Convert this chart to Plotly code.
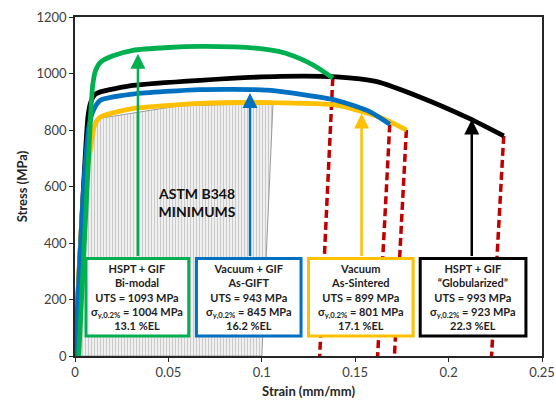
import plotly.graph_objects as go

# ---------------- data ----------------
green_x = [0.002, 0.0085, 0.0095, 0.011, 0.0136, 0.02, 0.031, 0.05, 0.067, 0.085, 0.098, 0.109, 0.117, 0.124, 0.131, 0.138]
green_y = [0, 870, 960, 1010, 1040, 1062, 1082, 1092, 1096, 1094, 1089, 1078, 1062, 1042, 1016, 984]

black_x = [0, 0.007, 0.0085, 0.0105, 0.0136, 0.031, 0.067, 0.11, 0.14, 0.161, 0.1845, 0.211, 0.2295]
black_y = [0, 850, 900, 925, 935, 958, 976, 990, 988, 972, 917, 841, 779]

blue_x = [0, 0.0044, 0.0061, 0.0074, 0.0095, 0.0136, 0.031, 0.067, 0.103, 0.14, 0.158, 0.1685]
blue_y = [0, 577, 729, 811, 865, 905, 927, 943, 941, 905, 864, 820]

yellow_x = [0, 0.0045, 0.0075, 0.0085, 0.0095, 0.011, 0.0136, 0.02, 0.031, 0.067, 0.103, 0.14, 0.163, 0.1774]
yellow_y = [0, 560, 700, 740, 790, 825, 846, 860, 876, 894, 897, 888, 846, 800]

astm_x = [0, 0.0045, 0.0075, 0.012, 0.055, 0.106, 0.1, 0]
astm_y = [0, 560, 760, 840, 885, 895, 0, 0]

elongation = [0.131, 0.162, 0.171, 0.223]          # green, blue, yellow, black
arrow_x = [0.0337, 0.0937, 0.1534, 0.2124]
arrow_tip = [1070, 931, 858, 837]

box_text = [
    "HSPT + GIF<br>Bi-modal<br>UTS = 1093 MPa<br>σ<sub>y,0.2%</sub> = 1004 MPa<br>13.1 %EL",
    "Vacuum + GIF<br>As-GIFT<br>UTS = 943 MPa<br>σ<sub>y,0.2%</sub> = 845 MPa<br>16.2 %EL",
    "Vacuum<br>As-Sintered<br>UTS = 899 MPa<br>σ<sub>y,0.2%</sub> = 801 MPa<br>17.1 %EL",
    "HSPT + GIF<br>“Globularized”<br>UTS = 993 MPa<br>σ<sub>y,0.2%</sub> = 923 MPa<br>22.3 %EL",
]
box_x0 = [0.0059, 0.065, 0.125, 0.1848]
box_x1 = [0.0609, 0.121, 0.181, 0.2414]
box_y0, box_y1 = 71, 345

x_ticks = [0, 0.05, 0.1, 0.15, 0.2, 0.25]
x_tick_labels = ["0", "0.05", "0.1", "0.15", "0.2", "0.25"]
y_ticks = [0, 200, 400, 600, 800, 1000, 1200]

GREEN, BLUE, YELLOW, BLACK, RED = "#00B050", "#0070C0", "#FFC000", "#000000", "#C00000"
colors = [GREEN, BLUE, YELLOW, BLACK]
curves = [(green_x, green_y), (blue_x, blue_y), (yellow_x, yellow_y), (black_x, black_y)]

fig = go.Figure()

# hatched ASTM region
fig.add_trace(go.Scatter(
    x=astm_x, y=astm_y, mode="lines", fill="toself",
    line=dict(color="#9a9a9a", width=1),
    fillcolor="rgba(0,0,0,0)",
    fillpattern=dict(shape="|", fgcolor="#a8a8a8", bgcolor="#efefef", size=3, solidity=0.35),
    hoverinfo="skip", showlegend=False))

# red dashed unloading lines
for (cx, cy), el in zip(curves, elongation):
    fig.add_trace(go.Scatter(
        x=[cx[-1], el], y=[cy[-1], 0], mode="lines",
        line=dict(color=RED, width=3.5, dash="8px,4px"),
        showlegend=False, hoverinfo="skip"))

# curves (draw order: black, yellow, blue, green)
order = [3, 2, 1, 0]
for i in order:
    cx, cy = curves[i]
    fig.add_trace(go.Scatter(
        x=cx, y=cy, mode="lines", line=dict(color=colors[i], width=4.8, shape="spline", smoothing=0.6),
        showlegend=False, hoverinfo="skip"))

shapes = []
annotations = []
for i in range(4):
    shapes.append(dict(type="rect", xref="x", yref="y", x0=box_x0[i], x1=box_x1[i],
                       y0=box_y0, y1=box_y1, line=dict(color=colors[i], width=3),
                       fillcolor="white", layer="above"))
    annotations.append(dict(x=(box_x0[i] + box_x1[i]) / 2, y=(box_y0 + box_y1) / 2,
                            xref="x", yref="y", text="<b>" + box_text[i] + "</b>",
                            showarrow=False, align="center",
                            font=dict(family="Lato", size=11, color="#222222")))
    annotations.append(dict(x=arrow_x[i], y=arrow_tip[i], ax=arrow_x[i], ay=box_y1 + 4,
                            xref="x", yref="y", axref="x", ayref="y", text="",
                            showarrow=True, arrowhead=2, arrowsize=1.2, arrowwidth=2.5,
                            arrowcolor=colors[i], standoff=0, startstandoff=0))

annotations.append(dict(x=0.0654, y=545, xref="x", yref="y",
                        text="<b>ASTM B348<br>MINIMUMS</b>", showarrow=False,
                        font=dict(family="Lato", size=14, color="#111111")))

fig.update_layout(
    width=556, height=404,
    margin=dict(l=74.5, r=13.5, t=16.7, b=47.5, autoexpand=False),
    paper_bgcolor="white", plot_bgcolor="white",
    shapes=shapes, annotations=annotations,
    font=dict(family="Lato", color="#404040"),
    xaxis=dict(range=[0, 0.25], tickvals=x_ticks, ticktext=x_tick_labels, automargin=False,
               showgrid=False, zeroline=False, showline=True, mirror=True,
               linecolor="#262626", linewidth=1.5, ticks="outside", ticklen=4,
               tickcolor="#262626", tickfont=dict(size=13, color="#404040"),
               title=dict(text="<b>Strain (mm/mm)</b>", font=dict(size=13, color="#262626"), standoff=8)),
    yaxis=dict(range=[0, 1200], tickvals=y_ticks, automargin=False,
               showgrid=False, zeroline=False, showline=True, mirror=True,
               linecolor="#262626", linewidth=1.5, ticks="outside", ticklen=4,
               tickcolor="#262626", tickfont=dict(size=13, color="#404040"),
               title=dict(text="<b>Stress (MPa)</b>", font=dict(size=13, color="#262626"), standoff=6)),
)

fig.write_html("out.html")
